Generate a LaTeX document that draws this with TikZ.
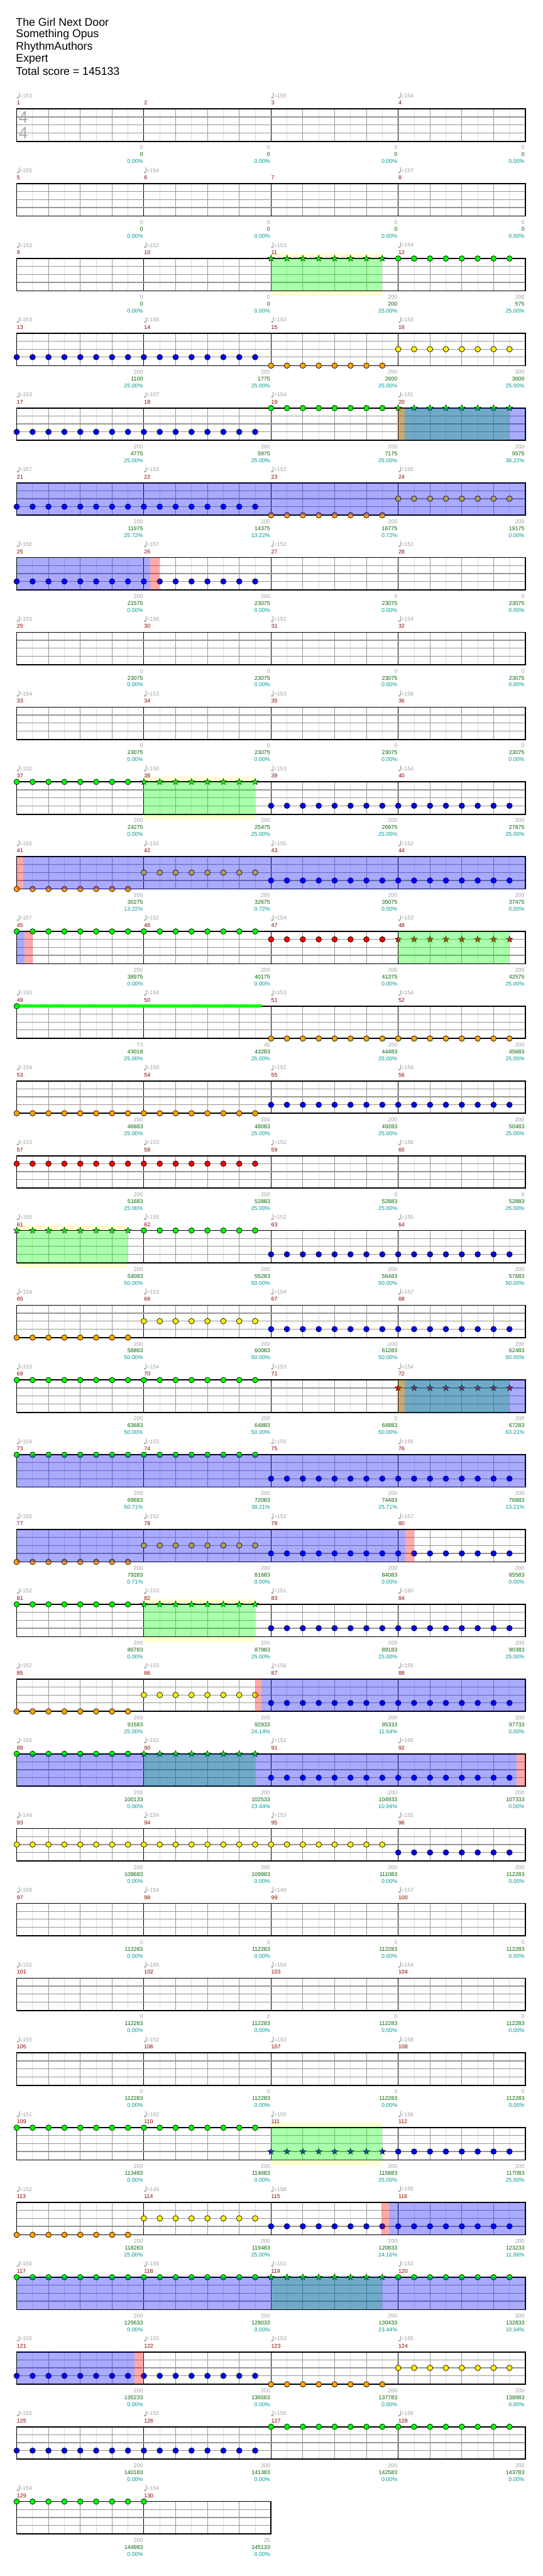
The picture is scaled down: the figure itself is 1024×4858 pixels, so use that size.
\documentclass[tikz,border=0pt]{standalone}
\usepackage{fontspec}
\setmainfont{Liberation Sans}
\usetikzlibrary{positioning,shapes.geometric}
\definecolor{tempogray}{RGB}{160,160,160}
\definecolor{barred}{RGB}{140,0,0}
\definecolor{scoregreen}{RGB}{0,100,0}
\definecolor{pctcyan}{RGB}{0,150,150}
\definecolor{gemorange}{RGB}{255,165,0}
\definecolor{gemgreen}{RGB}{0,255,0}
\definecolor{spyellow}{RGB}{255,255,208}
\definecolor{gridlight}{RGB}{220,220,220}
\definecolor{gridmid}{RGB}{150,150,150}
\definecolor{sigray}{RGB}{170,170,170}
\tikzset{
  chart/title/.style={anchor=west, inner sep=0pt, font=\fontsize{21}{24}\selectfont},
  chart/small/.style={inner sep=0pt, font=\fontsize{10.5}{12}\selectfont},
  chart/measure/.style={chart/small, anchor=west, text=barred},
  chart/tempo/.style={chart/small, anchor=west, text=tempogray},
  chart/hits/.style={chart/small, anchor=east, text=tempogray},
  chart/score/.style={chart/small, anchor=east, text=scoregreen},
  chart/pct/.style={chart/small, anchor=east, text=pctcyan},
  chart/eighth/.style={draw=gridlight, line width=1pt},
  chart/beat/.style={draw=gridmid, line width=1pt},
  chart/bar/.style={draw=black, line width=1pt},
  chart/lane/.style={draw=gridmid, line width=1.5pt},
  chart/border/.style={draw=black, line width=2pt},
  chart/gem/.style={circle, draw=black, line width=0.8pt, minimum size=10.5pt, inner sep=0pt},
  chart/stargem/.style={star, star points=5, star point ratio=2.4, draw=black, line width=0.6pt, minimum size=12.5pt, inner sep=0pt},
  chart/band/.style={fill=spyellow},
  chart/sp/.style={fill=gemgreen, fill opacity=0.333},
  chart/od/.style={fill=blue, fill opacity=0.333},
  chart/miss/.style={fill=red, fill opacity=0.333},
  chart/sustain/.style={draw=gemgreen, line width=6pt},
  chart/sig/.style={inner sep=0pt, text=sigray, font=\fontsize{31}{31}\selectfont},
  chart/row/.style={shift={(0,205.5+141*#1)}}
}
\newcommand{\chartstaff}[1]{%
  \pgfmathsetmacro{\staffend}{31.5+240*#1}
  \pgfmathtruncatemacro{\neighth}{8*#1-1}
  \pgfmathtruncatemacro{\nbeat}{4*#1-1}
  \pgfmathtruncatemacro{\nbar}{#1-1}
  \fill[white] (31.5,0) rectangle (\staffend,61);
  \foreach \k in {1,...,\neighth} \draw[chart/eighth] (31.5+30*\k,0) -- (31.5+30*\k,61);
  \foreach \k in {1,...,\nbeat} \draw[chart/beat] (31.5+60*\k,0) -- (31.5+60*\k,61);
  \foreach \k in {1,...,\nbar} \draw[chart/bar] (31.5+240*\k,0) -- (31.5+240*\k,61);
  \foreach \ly in {15,30,45} \draw[chart/lane] (31.5,\ly) -- (\staffend,\ly);
  \draw[chart/border] (31.5,0) rectangle (\staffend,61);
}
\newcommand{\gems}[4]{%
  \foreach \k in {1,...,#2}
    \node[chart/gem, fill=#4] (gem\k) at ({31.5+30*(#1+\k-1)},{15*#3+(#3>3)}) {};
}
\newcommand{\stars}[4]{%
  \foreach \k in {1,...,#2}
    \node[chart/stargem, fill=#4] (star\k) at ({31.5+30*(#1+\k-1)},{15*#3+(#3>3)}) {};
}
\newcommand{\spband}[2]{\fill[chart/band] (#1,-10) rectangle (#2,71);}
\newcommand{\chartfill}[3]{\fill[chart/#1] (#2,0) rectangle (#3,61);}
\newcommand{\tempomark}[3]{%
  \fill[tempogray] (#1+2,-21.3) ellipse [x radius=2.2pt, y radius=1.7pt];
  \draw[tempogray, line width=0.8pt] (#1+3.9,-21.3) -- (#1+3.9,-31);
  \node[chart/tempo] (tempo#3) at (#1+5.2,-25) {=#2};
}
\newcommand{\barmarks}[2]{%
  \foreach \tp/\hv/\sv/\pv [count=\m from 0] in {#2} {
    \pgfmathsetmacro{\mx}{31.5+240*\m}
    \pgfmathtruncatemacro{\mnum}{#1+\m}
    \node[chart/measure] (bar\mnum) at (\mx+0.3,-11.3) {\mnum};
    \ifnum\tp>0 \tempomark{\mx}{\tp}{\mnum}\fi
    \node[chart/hits] (hits\mnum) at (\mx+238.5,73) {\hv};
    \node[chart/score] (score\mnum) at (\mx+238.5,86) {\sv};
    \node[chart/pct] (pct\mnum) at (\mx+238.5,99) {\pv\%};
  }
}
\begin{document}
\begin{tikzpicture}[x=1pt,y=-1pt]
  \useasboundingbox (0,0) rectangle (1024,4858);
  \node[chart/title] (song) at (30,42.3) {The Girl Next Door};
  \node[chart/title, below=23pt of song.west, anchor=west] (artist) {Something Opus};
  \node[chart/title, below=23pt of artist.west, anchor=west] (charter) {RhythmAuthors};
  \node[chart/title, below=23pt of charter.west, anchor=west] (level) {Expert};
  \node[chart/title, below=23pt of level.west, anchor=west] (total) {Total score = 145133};

  \begin{scope}[chart/row=0]
    \chartstaff{4}
    \node[chart/sig] (sigtop) at (44,15.5) {4};
    \node[chart/sig] (sigbot) at (44,45) {4};
    \barmarks{1}{153/0/0/0.00,0/0/0/0.00,155/0/0/0.00,154/0/0/0.00}
  \end{scope}
  \begin{scope}[chart/row=1]
    \chartstaff{4}
    \barmarks{5}{155/0/0/0.00,154/0/0/0.00,0/0/0/0.00,157/0/0/0.00}
  \end{scope}
  \begin{scope}[chart/row=2]
    \spband{511.5}{721.5}
    \chartstaff{4}
    \stars{16}{8}{0}{gemgreen}
    \gems{24}{8}{0}{gemgreen}
    \chartfill{sp}{511.5}{721.5}
    \barmarks{9}{153/0/0/0.00,152/0/0/0.00,153/200/200/25.00,154/200/575/25.00}
  \end{scope}
  \begin{scope}[chart/row=3]
    \chartstaff{4}
    \gems{0}{16}{3}{blue}
    \gems{16}{8}{4}{gemorange}
    \gems{24}{8}{2}{yellow}
    \barmarks{13}{153/200/1100/25.00,156/200/1775/25.00,153/200/2600/25.00,153/200/3600/25.00}
  \end{scope}
  \begin{scope}[chart/row=4]
    \chartstaff{4}
    \gems{0}{16}{3}{blue}
    \gems{16}{8}{0}{gemgreen}
    \stars{24}{8}{0}{gemgreen}
    \chartfill{sp}{751.5}{961.5}
    \chartfill{miss}{751.5}{764}
    \chartfill{od}{764}{991.5}
    \barmarks{17}{153/200/4775/25.00,157/200/5975/25.00,154/200/7175/25.00,151/200/9575/38.22}
  \end{scope}
  \begin{scope}[chart/row=5]
    \chartstaff{4}
    \gems{0}{16}{3}{blue}
    \gems{16}{8}{4}{gemorange}
    \gems{24}{8}{2}{yellow}
    \chartfill{od}{31.5}{991.5}
    \barmarks{21}{157/200/11975/25.72,153/200/14375/13.22,152/200/16775/0.72,155/200/19175/0.00}
  \end{scope}
  \begin{scope}[chart/row=6]
    \chartstaff{4}
    \gems{0}{16}{3}{blue}
    \chartfill{od}{31.5}{284}
    \chartfill{miss}{284}{301}
    \barmarks{25}{156/200/21575/0.00,157/200/23075/0.00,152/0/23075/0.00,152/0/23075/0.00}
  \end{scope}
  \begin{scope}[chart/row=7]
    \chartstaff{4}
    \barmarks{29}{153/0/23075/0.00,156/0/23075/0.00,152/0/23075/0.00,154/0/23075/0.00}
  \end{scope}
  \begin{scope}[chart/row=8]
    \chartstaff{4}
    \barmarks{33}{154/0/23075/0.00,153/0/23075/0.00,153/0/23075/0.00,158/0/23075/0.00}
  \end{scope}
  \begin{scope}[chart/row=9]
    \spband{271.5}{481.5}
    \chartstaff{4}
    \gems{0}{8}{0}{gemgreen}
    \stars{8}{8}{0}{gemgreen}
    \gems{16}{16}{3}{blue}
    \chartfill{sp}{271.5}{481.5}
    \barmarks{37}{152/200/24275/0.00,156/200/25475/25.00,153/200/26675/25.00,154/200/27875/25.00}
  \end{scope}
  \begin{scope}[chart/row=10]
    \chartstaff{4}
    \gems{0}{8}{4}{gemorange}
    \gems{8}{8}{2}{yellow}
    \gems{16}{16}{3}{blue}
    \chartfill{miss}{31.5}{44.4}
    \chartfill{od}{44.4}{991.5}
    \barmarks{41}{155/200/30275/13.22,154/200/32675/0.72,155/200/35075/0.00,152/200/37475/0.00}
  \end{scope}
  \begin{scope}[chart/row=11]
    \chartstaff{4}
    \gems{0}{16}{0}{gemgreen}
    \gems{16}{8}{1}{red}
    \stars{24}{8}{1}{red}
    \chartfill{sp}{751.5}{961.5}
    \chartfill{od}{31.5}{45.7}
    \chartfill{miss}{45.7}{61.4}
    \barmarks{45}{157/200/38975/0.00,152/200/40175/0.00,154/200/41375/0.00,153/200/42575/25.00}
  \end{scope}
  \begin{scope}[chart/row=12]
    \chartstaff{4}
    \draw[chart/sustain] (31.5,0) -- (495,0);
    \gems{0}{1}{0}{gemgreen}
    \gems{16}{16}{4}{gemorange}
    \barmarks{49}{155/73/43018/25.00,154/45/43283/25.00,153/200/44483/25.00,154/200/45683/25.00}
  \end{scope}
  \begin{scope}[chart/row=13]
    \chartstaff{4}
    \gems{0}{16}{4}{gemorange}
    \gems{16}{16}{3}{blue}
    \barmarks{53}{154/200/46883/25.00,159/200/48083/25.00,152/200/49283/25.00,154/200/50483/25.00}
  \end{scope}
  \begin{scope}[chart/row=14]
    \chartstaff{4}
    \gems{0}{16}{1}{red}
    \barmarks{57}{153/200/51683/25.00,153/200/52883/25.00,152/0/52883/25.00,156/0/52883/25.00}
  \end{scope}
  \begin{scope}[chart/row=15]
    \spband{31.5}{241.5}
    \chartstaff{4}
    \stars{0}{8}{0}{gemgreen}
    \gems{8}{8}{0}{gemgreen}
    \gems{16}{16}{3}{blue}
    \chartfill{sp}{31.5}{241.5}
    \barmarks{61}{155/200/54083/50.00,155/200/55283/50.00,152/200/56483/50.00,155/200/57683/50.00}
  \end{scope}
  \begin{scope}[chart/row=16]
    \chartstaff{4}
    \gems{0}{8}{4}{gemorange}
    \gems{8}{8}{2}{yellow}
    \gems{16}{16}{3}{blue}
    \barmarks{65}{154/200/58883/50.00,153/200/60083/50.00,154/200/61283/50.00,157/200/62483/50.00}
  \end{scope}
  \begin{scope}[chart/row=17]
    \chartstaff{4}
    \gems{0}{16}{0}{gemgreen}
    \stars{24}{8}{1}{red}
    \chartfill{sp}{751.5}{961.5}
    \chartfill{miss}{751.5}{764}
    \chartfill{od}{764}{991.5}
    \barmarks{69}{153/200/63683/50.00,154/200/64883/50.00,153/0/64883/50.00,154/200/67283/63.21}
  \end{scope}
  \begin{scope}[chart/row=18]
    \chartstaff{4}
    \gems{0}{16}{0}{gemgreen}
    \gems{16}{16}{3}{blue}
    \chartfill{od}{31.5}{991.5}
    \barmarks{73}{154/200/69683/50.71,153/200/72083/38.21,155/200/74483/25.71,155/200/76883/13.21}
  \end{scope}
  \begin{scope}[chart/row=19]
    \chartstaff{4}
    \gems{0}{8}{4}{gemorange}
    \gems{8}{8}{2}{yellow}
    \gems{16}{16}{3}{blue}
    \chartfill{od}{31.5}{765}
    \chartfill{miss}{765}{781}
    \barmarks{77}{155/200/79283/0.71,152/200/81683/0.00,152/200/84083/0.00,157/200/85583/0.00}
  \end{scope}
  \begin{scope}[chart/row=20]
    \spband{271.5}{481.5}
    \chartstaff{4}
    \gems{0}{8}{0}{gemgreen}
    \stars{8}{8}{0}{gemgreen}
    \gems{16}{16}{3}{blue}
    \chartfill{sp}{271.5}{481.5}
    \barmarks{81}{152/200/86783/0.00,153/200/87983/25.00,151/200/89183/25.00,160/200/90383/25.00}
  \end{scope}
  \begin{scope}[chart/row=21]
    \chartstaff{4}
    \gems{0}{8}{4}{gemorange}
    \gems{8}{8}{2}{yellow}
    \gems{16}{16}{3}{blue}
    \chartfill{miss}{481.4}{493}
    \chartfill{od}{493}{991.5}
    \barmarks{85}{152/200/91583/25.00,153/200/92933/24.14,156/200/95333/11.64,155/200/97733/0.00}
  \end{scope}
  \begin{scope}[chart/row=22]
    \chartstaff{4}
    \gems{0}{8}{0}{gemgreen}
    \stars{8}{8}{0}{gemgreen}
    \gems{16}{16}{3}{blue}
    \chartfill{sp}{271.5}{481.5}
    \chartfill{od}{31.5}{974.5}
    \chartfill{miss}{974.5}{991.5}
    \barmarks{89}{155/200/100133/0.00,152/200/102533/23.44,152/200/104933/10.94,165/200/107333/0.00}
  \end{scope}
  \begin{scope}[chart/row=23]
    \chartstaff{4}
    \gems{0}{24}{2}{yellow}
    \gems{24}{8}{3}{blue}
    \barmarks{93}{144/200/108683/0.00,154/200/109883/0.00,153/200/111083/0.00,155/200/112283/0.00}
  \end{scope}
  \begin{scope}[chart/row=24]
    \chartstaff{4}
    \barmarks{97}{158/0/112283/0.00,154/0/112283/0.00,149/0/112283/0.00,157/0/112283/0.00}
  \end{scope}
  \begin{scope}[chart/row=25]
    \chartstaff{4}
    \barmarks{101}{152/0/112283/0.00,155/0/112283/0.00,154/0/112283/0.00,154/0/112283/0.00}
  \end{scope}
  \begin{scope}[chart/row=26]
    \chartstaff{4}
    \barmarks{105}{155/0/112283/0.00,152/0/112283/0.00,153/0/112283/0.00,158/0/112283/0.00}
  \end{scope}
  \begin{scope}[chart/row=27]
    \spband{511.5}{721.5}
    \chartstaff{4}
    \gems{0}{16}{0}{gemgreen}
    \stars{16}{8}{3}{blue}
    \gems{24}{8}{3}{blue}
    \chartfill{sp}{511.5}{721.5}
    \barmarks{109}{151/200/113483/0.00,152/200/114683/0.00,155/200/115883/25.00,156/200/117083/25.00}
  \end{scope}
  \begin{scope}[chart/row=28]
    \chartstaff{4}
    \gems{0}{8}{4}{gemorange}
    \gems{8}{8}{2}{yellow}
    \gems{16}{16}{3}{blue}
    \chartfill{miss}{719.8}{734.2}
    \chartfill{od}{734.2}{991.5}
    \barmarks{113}{152/200/118283/25.00,149/200/119483/25.00,158/200/120833/24.16,155/200/123233/11.66}
  \end{scope}
  \begin{scope}[chart/row=29]
    \chartstaff{4}
    \gems{0}{16}{0}{gemgreen}
    \stars{16}{8}{0}{gemgreen}
    \gems{24}{8}{0}{gemgreen}
    \chartfill{sp}{511.5}{721.5}
    \chartfill{od}{31.5}{991.5}
    \barmarks{117}{156/200/125633/0.00,158/200/128033/0.00,151/200/130433/23.44,152/200/132833/10.94}
  \end{scope}
  \begin{scope}[chart/row=30]
    \chartstaff{4}
    \gems{0}{16}{3}{blue}
    \gems{16}{8}{4}{gemorange}
    \gems{24}{8}{2}{yellow}
    \chartfill{od}{31.5}{254}
    \chartfill{miss}{254}{271.5}
    \barmarks{121}{155/200/135233/0.00,153/200/136583/0.00,153/200/137783/0.00,155/200/138983/0.00}
  \end{scope}
  \begin{scope}[chart/row=31]
    \chartstaff{4}
    \gems{0}{16}{3}{blue}
    \gems{16}{16}{0}{gemgreen}
    \barmarks{125}{155/200/140183/0.00,155/200/141383/0.00,156/200/142583/0.00,156/200/143783/0.00}
  \end{scope}
  \begin{scope}[chart/row=32]
    \chartstaff{2}
    \gems{0}{9}{0}{gemgreen}
    \barmarks{129}{154/200/144983/0.00,154/25/145133/0.00}
  \end{scope}
\end{tikzpicture}
\end{document}
